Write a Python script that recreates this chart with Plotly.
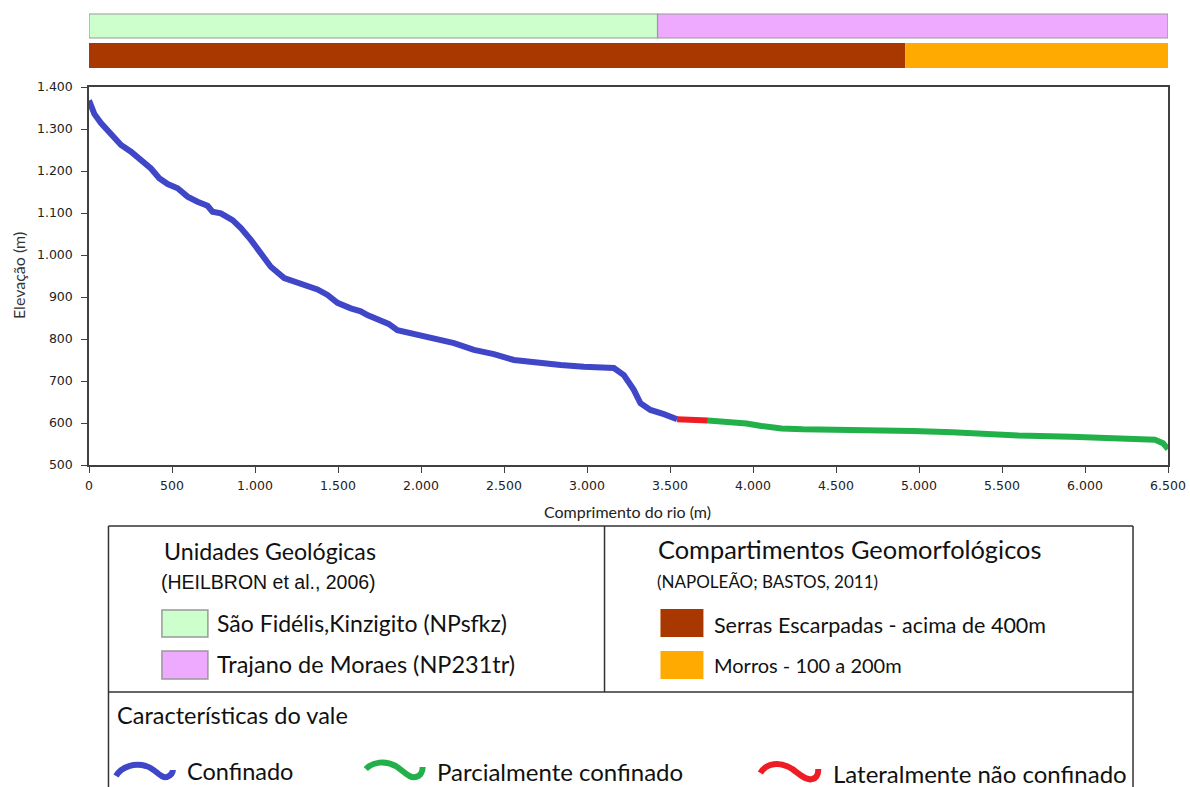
import plotly.graph_objects as go

# ---------------- data ----------------
# Valley type: confined (blue)
dist_confinado = [0, 8, 18, 32, 72, 132, 193, 253, 313, 373, 423, 474, 534, 594, 654, 714, 744,
                  794, 865, 915, 975, 1035, 1095, 1176, 1236, 1316, 1376, 1437, 1497, 1577, 1637,
                  1677, 1777, 1805, 1858, 1978, 2078, 2199, 2319, 2439, 2560, 2680, 2841, 2981,
                  3100, 3162, 3222, 3282, 3322, 3382, 3463, 3523, 3543]
elev_confinado = [1368, 1358, 1344, 1336, 1314, 1286, 1262, 1246, 1226, 1206, 1183, 1169, 1159,
                  1139, 1127, 1117, 1103, 1099, 1083, 1064, 1036, 1004, 972, 945, 936, 926, 918,
                  905, 886, 873, 866, 857, 841, 836, 821, 810, 802, 790, 774, 764, 750, 744, 738,
                  734, 732, 731, 714, 679, 647, 631, 621, 612, 609]

# Laterally unconfined (red)
dist_lateral = [3543, 3600, 3680, 3728]
elev_lateral = [609, 608, 607, 606]

# Partly confined (green)
dist_parcial = [3728, 3800, 3900, 3961, 4050, 4172, 4300, 4596, 4800, 4966, 5200, 5389, 5600,
                5918, 6100, 6315, 6421, 6470, 6500]
elev_parcial = [606, 604, 601, 599, 593, 587, 585, 584, 583, 581, 578, 574, 570, 567, 565, 563,
                560, 552, 538]

# Geological units (top bar)
geo_labels = ["São Fidélis,Kinzigito (NPsfkz)", "Trajano de Moraes (NP231tr)"]
geo_start = [0, 3425]
geo_end = [3425, 6500]
geo_colors = ["#CCFFCC", "#EEAAFF"]

# Geomorphological compartments (second bar)
geom_labels = ["Serras Escarpadas - acima de 400m", "Morros - 100 a 200m"]
geom_start = [0, 4917]
geom_end = [4917, 6500]
geom_colors = ["#A83800", "#FFAA00"]

valley_labels = ["Confinado", "Parcialmente confinado", "Lateralmente não confinado"]
valley_colors = ["#4046C8", "#22B04A", "#EE1C25"]

x_ticks = list(range(0, 6501, 500))
y_ticks = list(range(500, 1401, 100))

# ---------------- layout helpers ----------------
KX = 1198 / 1190          # horizontal compensation for the capture
W, H = 1198, 787
L, R, T, B = 88 * KX, 1168 * KX, 87, 465


def px(x):
    return (x * KX - L) / (R - L)


def py(y):
    return (B - y) / (B - T)


fig = go.Figure()

fig.add_trace(go.Scatter(x=dist_confinado, y=elev_confinado, mode="lines",
                         line=dict(color=valley_colors[0], width=6), name=valley_labels[0]))
fig.add_trace(go.Scatter(x=dist_parcial, y=elev_parcial, mode="lines",
                         line=dict(color=valley_colors[1], width=6), name=valley_labels[1]))
fig.add_trace(go.Scatter(x=dist_lateral, y=elev_lateral, mode="lines",
                         line=dict(color=valley_colors[2], width=6), name=valley_labels[2]))

shapes = []
# top bars (data x coordinates)
for s, e, c in zip(geo_start, geo_end, geo_colors):
    shapes.append(dict(type="rect", xref="x", yref="paper", x0=s, x1=e, y0=py(38), y1=py(14),
                       fillcolor=c, line=dict(color="#999999", width=1.2), layer="above"))
for s, e, c in zip(geom_start, geom_end, geom_colors):
    shapes.append(dict(type="rect", xref="x", yref="paper", x0=s, x1=e, y0=py(68), y1=py(43),
                       fillcolor=c, line=dict(width=0), layer="above"))

# legend box lines
box_col = "#333333"
def hline(y, x0, x1):
    shapes.append(dict(type="line", xref="paper", yref="paper", x0=px(x0), x1=px(x1),
                       y0=py(y), y1=py(y), line=dict(color=box_col, width=1.5)))
def vline(x, y0, y1):
    shapes.append(dict(type="line", xref="paper", yref="paper", x0=px(x), x1=px(x),
                       y0=py(y0), y1=py(y1), line=dict(color=box_col, width=1.5)))

hline(526, 107.5, 1133)
hline(692, 107.5, 1133)
vline(107.5, 526, 790)
vline(1133, 526, 790)
vline(604, 526, 692)

# legend swatches
def rect(x0, y0, x1, y1, fill, border):
    shapes.append(dict(type="rect", xref="paper", yref="paper", x0=px(x0), x1=px(x1),
                       y0=py(y1), y1=py(y0), fillcolor=fill,
                       line=dict(color=border, width=1.5 if border else 0)))

rect(161, 610, 207, 637, geo_colors[0], "#999999")
rect(161, 651, 207, 679, geo_colors[1], "#999999")
rect(660, 609, 703, 637, geom_colors[0], None)
rect(660, 651, 703, 679, geom_colors[1], None)

# squiggle legend glyphs
def squiggle(pts, color):
    d = "M{},{}".format(px(pts[0][0]), py(pts[0][1]))
    rest = pts[1:]
    for i in range(0, len(rest), 3):
        p = rest[i:i + 3]
        d += " C" + " ".join("{},{}".format(px(a), py(b)) for a, b in p)
    shapes.append(dict(type="path", xref="paper", yref="paper", path=d,
                       line=dict(color=color, width=6)))

squiggle([(115, 776), (121, 766), (134, 763), (145, 766),
          (155, 769), (160, 779), (166, 777), (170, 776), (172, 772), (172, 770)], valley_colors[0])
squiggle([(365, 769), (372, 762), (384, 760), (395, 766),
          (403, 771), (409, 779), (415, 777), (420, 776), (422, 771), (422, 767)], valley_colors[1])
squiggle([(760, 773), (766, 763), (779, 761), (792, 769),
          (800, 775), (806, 781), (812, 779), (817, 778), (818, 773), (818, 769)], valley_colors[2])

annotations = []
def text(x, y, s, size, family="Lato", color="#111111", anchor="left"):
    annotations.append(dict(xref="paper", yref="paper", x=px(x), y=py(y), text=s,
                            showarrow=False, xanchor=anchor, yanchor="middle",
                            font=dict(family=family, size=size, color=color)))

text(161, 551, "Unidades Geológicas", 23.2)
text(158, 582, "(HEILBRON et al., 2006)", 19.5, family="Liberation Sans")
text(214, 623, geo_labels[0], 23)
text(214, 664, geo_labels[1], 23.5)
text(656, 549, "Compartimentos Geomorfológicos", 25.4)
text(655, 581, "(NAPOLEÃO; BASTOS, 2011)", 17)
text(712, 625, geom_labels[0], 21.5)
text(712, 665, geom_labels[1], 20)
text(114, 715, "Características do vale", 23.5)
text(184, 771, valley_labels[0], 23.5)
text(434, 771, valley_labels[1], 24)
text(831, 773, valley_labels[2], 24)

# axis titles
annotations.append(dict(xref="paper", yref="paper", x=px(627), y=py(511),
                        text="Comprimento do rio (m)", showarrow=False,
                        xanchor="center", yanchor="middle",
                        font=dict(family="Lato", size=16, color="#222222")))
annotations.append(dict(xref="paper", yref="paper", x=px(17), y=py(276),
                        text="Elevação (m)", showarrow=False, textangle=-90,
                        xanchor="center", yanchor="middle",
                        font=dict(family="Lato", size=16, color="#333333")))

axis_common = dict(showline=True, linecolor="#404040", linewidth=1.5, mirror=True,
                   ticks="outside", ticklen=6, tickcolor="#404040", tickwidth=1.3,
                   showgrid=False, zeroline=False, separatethousands=True,
                   tickfont=dict(family="DejaVu Sans", size=12.5, color="#222222"))

fig.update_layout(
    width=W, height=H,
    margin=dict(l=L, r=W - R, t=T, b=H - B),
    paper_bgcolor="white", plot_bgcolor="white",
    showlegend=False,
    separators=",.",
    xaxis=dict(range=[0, 6500], tickvals=x_ticks, ticklabelstandoff=2, **axis_common),
    yaxis=dict(range=[500, 1400], tickvals=y_ticks, ticklabelstandoff=6, **axis_common),
    shapes=shapes,
    annotations=annotations,
)

fig.write_html("out.html", config={"displayModeBar": False},
               post_script="document.body.style.margin='0';document.body.style.overflow='hidden';"
                           "document.documentElement.style.overflow='hidden';")
